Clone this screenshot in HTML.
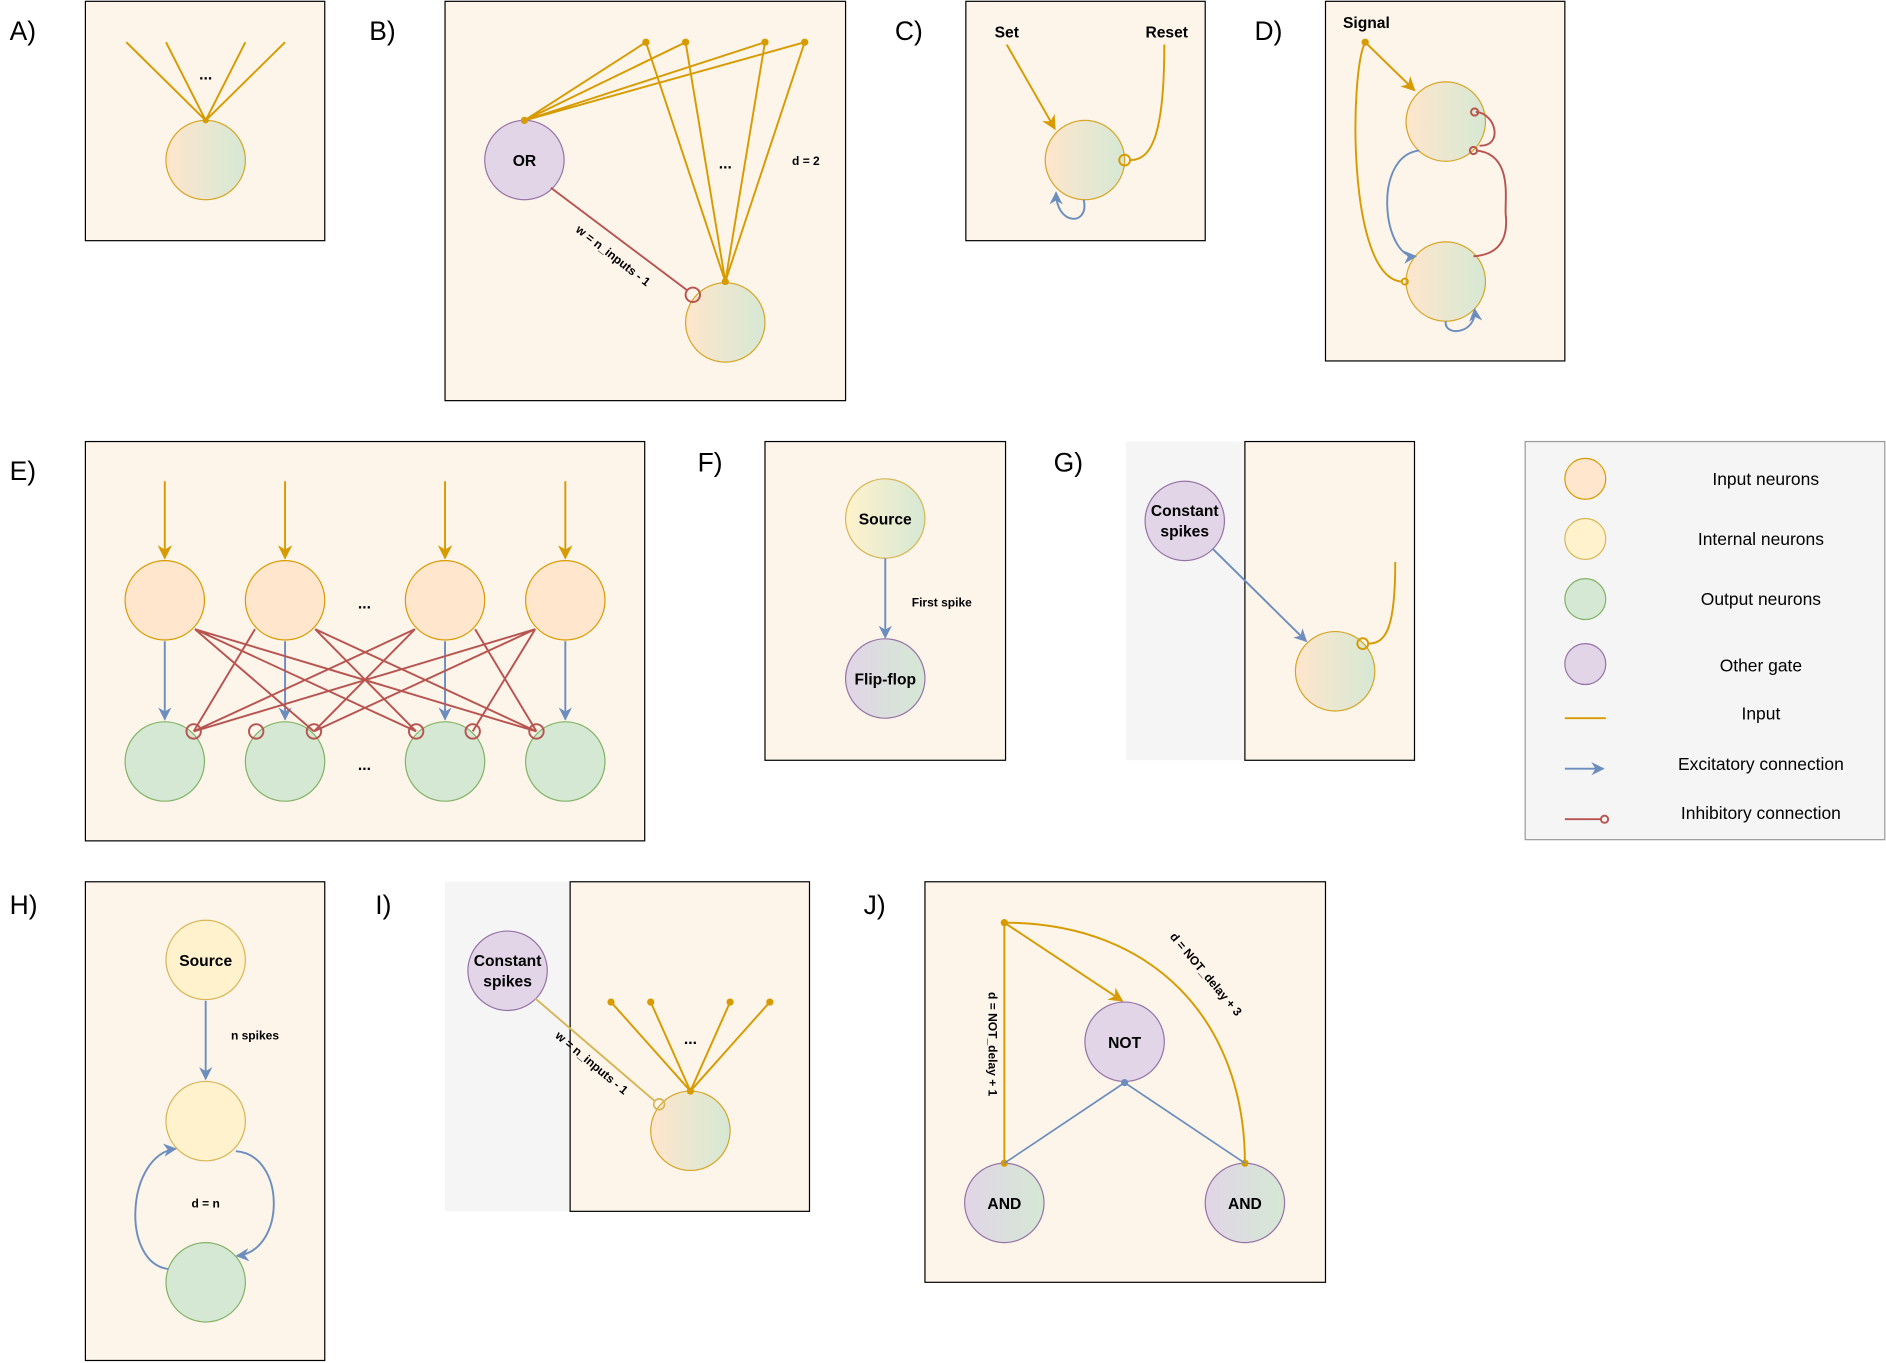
<!DOCTYPE html>
<html><head><meta charset="utf-8"><style>
html,body{margin:0;padding:0;background:#fff;}
svg{display:block;}
text{font-family:"Liberation Sans",Arial,sans-serif;}
</style></head><body>
<svg width="1886" height="1363" viewBox="0 0 1568 1133" xmlns="http://www.w3.org/2000/svg">
<defs>
<linearGradient id="g1" x1="0" x2="1" y1="0" y2="0"><stop offset="0" stop-color="#ffe6cc"/><stop offset="1" stop-color="#d5e8d4"/></linearGradient>
<linearGradient id="g2" x1="0" x2="1" y1="0" y2="0"><stop offset="0" stop-color="#fff2cc"/><stop offset="1" stop-color="#d5e8d4"/></linearGradient>
<linearGradient id="g3" x1="0" x2="1" y1="0" y2="0"><stop offset="0" stop-color="#e1d5e7"/><stop offset="1" stop-color="#d5e8d4"/></linearGradient>
<marker id="ao" viewBox="0 0 10 10" refX="9" refY="5" markerWidth="7" markerHeight="7" orient="auto" markerUnits="userSpaceOnUse"><path d="M0,0 L10,5 L0,10 L3,5z" fill="#d79b00"/></marker>
<marker id="ab" viewBox="0 0 10 10" refX="9" refY="5" markerWidth="11" markerHeight="11" orient="auto" markerUnits="userSpaceOnUse"><path d="M0,0 L10,5 L0,10 L3,5z" fill="#6c8ebf"/></marker>
<marker id="ao2" viewBox="0 0 10 10" refX="9" refY="5" markerWidth="12" markerHeight="12" orient="auto" markerUnits="userSpaceOnUse"><path d="M0,0 L10,5 L0,10 L3,5z" fill="#d79b00"/></marker>
</defs>
<style>
.p{fill:#fdf4ea;stroke:#000;stroke-width:1}
.o{stroke:#d79b00;stroke-width:1.6;fill:none}
.b{stroke:#6c8ebf;stroke-width:1.6;fill:none}
.r{stroke:#b85450;stroke-width:1.6;fill:none}
.n{fill:url(#g1);stroke:#d6a526;stroke-width:1}
.lab{font-size:22px}
.t{font-size:13px;font-weight:bold}
.s{font-size:10px;font-weight:bold}
.lg{font-size:14.5px}
</style>
<!-- labels -->
<text x="8" y="33" class="lab">A)</text>
<text x="307" y="33" class="lab">B)</text>
<text x="744" y="33" class="lab">C)</text>
<text x="1043" y="33" class="lab">D)</text>
<text x="8" y="399" class="lab">E)</text>
<text x="580" y="392" class="lab">F)</text>
<text x="876" y="392" class="lab">G)</text>
<text x="8" y="760" class="lab">H)</text>
<text x="312" y="760" class="lab">I)</text>
<text x="718" y="760" class="lab">J)</text>

<!-- A -->
<rect x="71" y="1" width="199" height="199" class="p"/>
<circle cx="171" cy="133" r="33" class="n"/>
<g class="o"><path d="M105,35 L171,100 M138,35 L171,100 M204,35 L171,100 M237,35 L171,100"/></g>
<circle cx="171" cy="100" r="2.5" fill="#d79b00"/>
<text x="171" y="66" class="t" text-anchor="middle">...</text>

<!-- B -->
<rect x="370" y="1" width="333" height="332" class="p"/>
<circle cx="436" cy="133" r="33" fill="#e1d5e7" stroke="#9673a6"/>
<text x="436" y="138" class="t" text-anchor="middle">OR</text>
<circle cx="603" cy="268" r="33" class="n"/>
<g class="o"><path d="M436,100 L537,35 M436,100 L570,35 M436,100 L636,35 M436,100 L669,35 M537,35 L603,234 M570,35 L603,234 M636,35 L603,234 M669,35 L603,234"/></g>
<g fill="#d79b00"><circle cx="436" cy="100" r="3"/><circle cx="537" cy="35" r="3"/><circle cx="570" cy="35" r="3"/><circle cx="636" cy="35" r="3"/><circle cx="669" cy="35" r="3"/><circle cx="603" cy="234" r="3"/></g>
<path d="M458,156 L571,241" class="r"/><circle cx="576" cy="245" r="6" class="r"/>
<text x="0" y="0" class="s" transform="translate(478,192) rotate(38)">w = n_inputs - 1</text>
<text x="603" y="140" class="t" text-anchor="middle">...</text>
<text x="670" y="137" class="s" text-anchor="middle">d = 2</text>

<!-- C -->
<rect x="803" y="1" width="199" height="199" class="p"/>
<circle cx="902" cy="133" r="33" class="n"/>
<text x="837" y="31" class="t" text-anchor="middle">Set</text>
<text x="970" y="31" class="t" text-anchor="middle">Reset</text>
<path d="M837,37 L877,107" class="o" marker-end="url(#ao2)"/>
<path d="M968,37 C968,110 958,133 940,133" class="o"/><circle cx="935" cy="133" r="4.5" class="o"/>
<path d="M901,166 C906,188 878,188 878,160" class="b" marker-end="url(#ab)"/>

<!-- D -->
<rect x="1102" y="1" width="199" height="299" class="p"/>
<circle cx="1202" cy="101" r="33" class="n"/>
<circle cx="1202" cy="234" r="33" class="n"/>
<text x="1136" y="23" class="t" text-anchor="middle">Signal</text>
<circle cx="1135" cy="35" r="3" fill="#d79b00"/>
<path d="M1135,35 L1176,75" class="o" marker-end="url(#ao2)"/>
<path d="M1135,35 C1122,60 1120,230 1165,234" class="o"/><circle cx="1168" cy="234" r="2.5" class="o"/>
<path d="M1180,125 C1140,130 1150,215 1177,213" class="b" marker-end="url(#ab)"/>
<path d="M1227,125 C1260,128 1250,170 1252,180 C1254,205 1240,212 1225,213" class="r"/><circle cx="1225" cy="125" r="3" class="r"/>
<path d="M1227,93 C1244,94 1250,122 1230,121" class="r"/><circle cx="1226" cy="93" r="3" class="r"/>
<path d="M1202,267 C1200,280 1228,278 1226,257" class="b" marker-end="url(#ab)"/>

<!-- E -->
<rect x="71" y="367" width="465" height="332" class="p"/>
<g fill="#ffe6cc" stroke="#d79b00"><circle cx="137" cy="499" r="33"/><circle cx="237" cy="499" r="33"/><circle cx="370" cy="499" r="33"/><circle cx="470" cy="499" r="33"/></g>
<g fill="#d5e8d4" stroke="#82b366"><circle cx="137" cy="633" r="33"/><circle cx="237" cy="633" r="33"/><circle cx="370" cy="633" r="33"/><circle cx="470" cy="633" r="33"/></g>
<g class="o"><path d="M137,400 L137,464" marker-end="url(#ao2)"/><path d="M237,400 L237,464" marker-end="url(#ao2)"/><path d="M370,400 L370,464" marker-end="url(#ao2)"/><path d="M470,400 L470,464" marker-end="url(#ao2)"/></g>
<g class="b"><path d="M137,533 L137,598" marker-end="url(#ab)"/><path d="M237,533 L237,598" marker-end="url(#ab)"/><path d="M370,533 L370,598" marker-end="url(#ab)"/><path d="M470,533 L470,598" marker-end="url(#ab)"/></g>
<g class="r" stroke-width="1.3">
<path d="M162,523 L261,608 M162,523 L346,608 M162,523 L446,608 M212,523 L161,608 M262,523 L346,608 M262,523 L446,608 M345,523 L161,608 M345,523 L261,608 M395,523 L446,608 M445,523 L161,608 M445,523 L261,608 M445,523 L393,608 M212,523 L161,608"/>
</g>
<g class="r"><circle cx="161" cy="608" r="6"/><circle cx="213" cy="608" r="6"/><circle cx="261" cy="608" r="6"/><circle cx="346" cy="608" r="6"/><circle cx="393" cy="608" r="6"/><circle cx="446" cy="608" r="6"/></g>
<text x="303" y="506" class="t" text-anchor="middle">...</text>
<text x="303" y="640" class="t" text-anchor="middle">...</text>

<!-- F -->
<rect x="636" y="367" width="200" height="265" class="p"/>
<circle cx="736" cy="431" r="33" fill="url(#g2)" stroke="#d6b656"/>
<text x="736" y="436" class="t" text-anchor="middle">Source</text>
<circle cx="736" cy="564" r="33" fill="url(#g3)" stroke="#9673a6"/>
<text x="736" y="569" class="t" text-anchor="middle">Flip-flop</text>
<path d="M736,464 L736,530" class="b" marker-end="url(#ab)"/>
<text x="783" y="504" class="s" text-anchor="middle">First spike</text>

<!-- G -->
<rect x="936" y="367" width="240" height="265" fill="#f5f5f5"/>
<rect x="1035" y="367" width="141" height="265" class="p"/>
<circle cx="985" cy="433" r="33" fill="#e1d5e7" stroke="#9673a6"/>
<text x="985" y="429" class="t" text-anchor="middle">Constant</text>
<text x="985" y="446" class="t" text-anchor="middle">spikes</text>
<circle cx="1110" cy="558" r="33" class="n"/>
<path d="M1008,456 L1086,533" class="b" marker-end="url(#ab)"/>
<path d="M1160,467 C1160,520 1153,535 1138,535" class="o"/><circle cx="1133" cy="535" r="4.5" class="o"/>

<!-- Legend -->
<rect x="1268" y="367" width="299" height="331" fill="#f5f5f5" stroke="#999"/>
<circle cx="1318" cy="398" r="17" fill="#ffe6cc" stroke="#d79b00"/>
<circle cx="1318" cy="448" r="17" fill="#fff2cc" stroke="#d6b656"/>
<circle cx="1318" cy="498" r="17" fill="#d5e8d4" stroke="#82b366"/>
<circle cx="1318" cy="552" r="17" fill="#e1d5e7" stroke="#9673a6"/>
<path d="M1301,597 L1335,597" class="o"/>
<path d="M1301,639 L1333,639" class="b" marker-end="url(#ab)"/>
<path d="M1301,681 L1331,681" class="r"/><circle cx="1334" cy="681" r="3" class="r"/>
<g class="lg" text-anchor="middle">
<text x="1468" y="403">Input neurons</text>
<text x="1464" y="453">Internal neurons</text>
<text x="1464" y="503">Output neurons</text>
<text x="1464" y="558">Other gate</text>
<text x="1464" y="598">Input</text>
<text x="1464" y="640">Excitatory connection</text>
<text x="1464" y="681">Inhibitory connection</text>
</g>

<!-- H -->
<rect x="71" y="733" width="199" height="398" class="p"/>
<circle cx="171" cy="798" r="33" fill="#fff2cc" stroke="#d6b656"/>
<text x="171" y="803" class="t" text-anchor="middle">Source</text>
<circle cx="171" cy="932" r="33" fill="#fff2cc" stroke="#d6b656"/>
<circle cx="171" cy="1066" r="33" fill="#d5e8d4" stroke="#82b366"/>
<path d="M171,832 L171,897" class="b" marker-end="url(#ab)"/>
<text x="212" y="864" class="s" text-anchor="middle">n spikes</text>
<path d="M140,1055 C100,1050 105,960 146,955" class="b" marker-end="url(#ab)"/>
<path d="M196,957 C238,960 238,1040 197,1044" class="b" marker-end="url(#ab)"/>
<text x="171" y="1004" class="s" text-anchor="middle">d = n</text>

<!-- I -->
<rect x="370" y="733" width="303" height="274" fill="#f5f5f5"/>
<rect x="474" y="733" width="199" height="274" class="p"/>
<circle cx="422" cy="807" r="33" fill="#e1d5e7" stroke="#9673a6"/>
<text x="422" y="803" class="t" text-anchor="middle">Constant</text>
<text x="422" y="820" class="t" text-anchor="middle">spikes</text>
<circle cx="574" cy="940" r="33" class="n"/>
<g class="o"><path d="M508,833 L574,907 M541,833 L574,907 M607,833 L574,907 M640,833 L574,907"/></g>
<g fill="#d79b00"><circle cx="508" cy="833" r="3"/><circle cx="541" cy="833" r="3"/><circle cx="607" cy="833" r="3"/><circle cx="640" cy="833" r="3"/><circle cx="574" cy="907" r="3"/></g>
<path d="M445,830 L544,915" stroke="#d6b656" stroke-width="1.6" fill="none"/><circle cx="548" cy="918" r="4.5" stroke="#d6b656" stroke-width="1.4" fill="none"/>
<text x="0" y="0" class="s" transform="translate(461,862) rotate(40)">w = n_inputs - 1</text>
<text x="574" y="868" class="t" text-anchor="middle">...</text>

<!-- J -->
<rect x="769" y="733" width="333" height="333" class="p"/>
<circle cx="935" cy="866" r="33" fill="#e1d5e7" stroke="#9673a6"/>
<text x="935" y="871" class="t" text-anchor="middle">NOT</text>
<circle cx="835" cy="1000" r="33" fill="url(#g3)" stroke="#9673a6"/>
<text x="835" y="1005" class="t" text-anchor="middle">AND</text>
<circle cx="1035" cy="1000" r="33" fill="url(#g3)" stroke="#9673a6"/>
<text x="1035" y="1005" class="t" text-anchor="middle">AND</text>
<path d="M835,767 L835,967" class="o"/>
<path d="M835,767 L933,832" class="o" marker-end="url(#ao2)"/>
<path d="M835,767 C960,767 1035,850 1035,967" class="o"/>
<g fill="#d79b00"><circle cx="835" cy="767" r="3"/><circle cx="835" cy="967" r="3"/><circle cx="1035" cy="967" r="3"/></g>
<path d="M935,900 L835,967 M935,900 L1035,967" stroke="#6c8ebf" stroke-width="1.4" fill="none"/>
<circle cx="935" cy="900" r="3" fill="#6c8ebf"/>
<text x="0" y="0" class="s" text-anchor="middle" transform="translate(822,868) rotate(90)">d = NOT_delay + 1</text>
<text x="0" y="0" class="s" text-anchor="middle" transform="translate(1000,812) rotate(50)">d = NOT_delay + 3</text>
</svg>
</body></html>
